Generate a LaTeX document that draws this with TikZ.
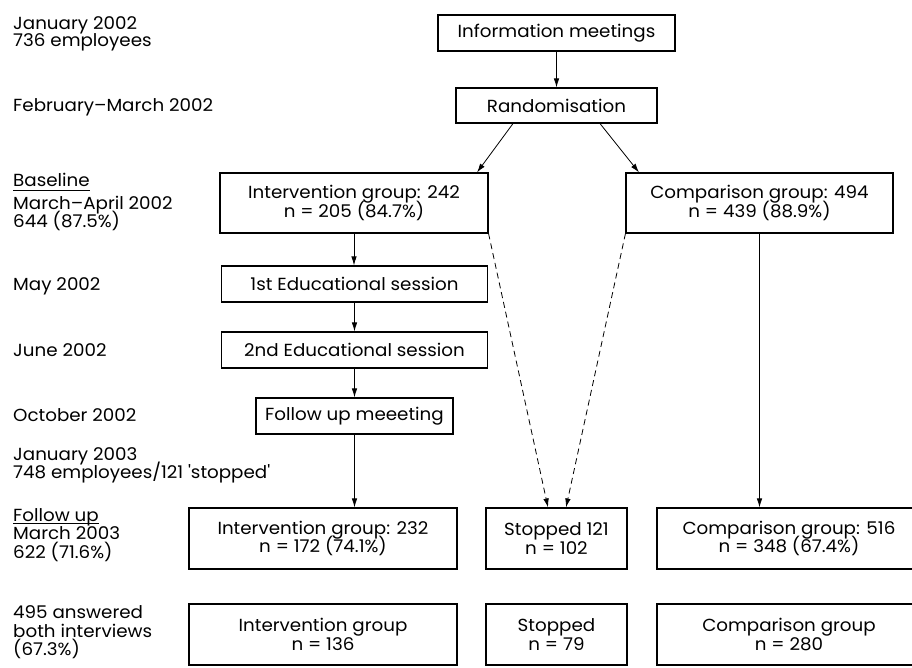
\documentclass[tikz,border=0pt]{standalone}
\usepackage{fontspec}
\setmainfont{Poppins}[FakeStretch=1.045]
\usetikzlibrary{arrows.meta,calc}
\newcommand\boxfont{\fontsize{17.5}{18.4}\selectfont\lineskiplimit=-100pt\relax}
\tikzset{
  box/.style={draw, line width=1.1pt, inner sep=0pt, align=center, font=\boxfont},
  lab/.style={anchor=base west, inner sep=0pt, font=\boxfont},
  arr/.style={-{Latex[length=9pt,width=5.5pt]}, line width=0.8pt},
  dsh/.style={arr, dash pattern=on 6pt off 4pt},
  uline/.style={line width=0.8pt}
}
\begin{document}
\begin{tikzpicture}[x=1pt,y=-1pt]
\useasboundingbox (0,0) rectangle (912,668);
% left column labels
\node[lab] (l1) at (13,29.3) {January 2002};
\node[lab] (l2) at (13,47) {736 employees};
\node[lab] (l3) at (13,111.7) {February–March 2002};
\node[lab] (l4) at (13,187) {Baseline};
\node[lab] (l5) at (13,210) {March–April 2002};
\node[lab] (l6) at (13,227.5) {644 (87.5\%)};
\node[lab] (l7) at (13,290) {May 2002};
\node[lab] (l8) at (13,356) {June 2002};
\node[lab] (l9) at (13,421.7) {October 2002};
\node[lab] (l10) at (13,460) {January 2003};
\node[lab] (l11) at (13,478) {748 employees/121 \textquotesingle stopped\textquotesingle};
\node[lab] (l12) at (13,521.5) {Follow up};
\node[lab] (l13) at (13,539.5) {March 2003};
\node[lab] (l14) at (13,558) {622 (71.6\%)};
\node[lab] (l15) at (13,618) {495 answered};
\node[lab] (l16) at (13,637) {both interviews};
\node[lab] (l17) at (13,655.5) {(67.3\%)};
\draw[uline] ([yshift=-3.5pt]l4.base west) -- ([yshift=-3.5pt]l4.base east);
\draw[uline] ([yshift=-2pt]l12.base west) -- ([yshift=-2pt]l12.base east);
% boxes
\node[box, minimum width=237pt, minimum height=36pt] (info) at (556.5,33) {Information meetings};
\node[box, minimum width=201pt, minimum height=35pt] (rand) at (556.5,105.5) {Randomisation};
\node[box, minimum width=268pt, minimum height=60pt] (ig1) at (354,203) {Intervention group: 242\\n = 205 (84.7\%)};
\node[box, minimum width=267pt, minimum height=60pt] (cg1) at (759.5,203) {Comparison group: 494\\n = 439 (88.9\%)};
\node[box, minimum width=266pt, minimum height=36pt] (es1) at (354.5,284) {1st Educational session};
\node[box, minimum width=266pt, minimum height=36pt] (es2) at (354.5,350) {2nd Educational session};
\node[box, minimum width=197pt, minimum height=36pt] (fum) at (354.5,416) {Follow up meeeting};
\node[box, minimum width=268pt, minimum height=61pt] (ig2) at (323,538.5) {Intervention group: 232\\n = 172 (74.1\%)};
\node[box, minimum width=141pt, minimum height=61pt] (st1) at (556.5,538.5) {Stopped 121\\n = 102};
\node[box, minimum width=264pt, minimum height=61pt] (cg2) at (789,538.5) {Comparison group: 516\\n = 348 (67.4\%)};
\node[box, minimum width=268pt, minimum height=61pt] (ig3) at (323,634.5) {Intervention group\\n = 136};
\node[box, minimum width=141pt, minimum height=61pt] (st2) at (556.5,634.5) {Stopped\\n = 79};
\node[box, minimum width=264pt, minimum height=61pt] (cg3) at (789,634.5) {Comparison group\\n = 280};
% connectors
\draw[arr] (info.south) -- (rand.north);
\draw[arr] ([xshift=-43.5pt]rand.south) -- ([xshift=123pt]ig1.north);
\draw[arr] ([xshift=43.5pt]rand.south) -- ([xshift=-120.5pt]cg1.north);
\draw[arr] (ig1.south) -- (ig1.south |- es1.north);
\draw[arr] (es1.south) -- (es2.north);
\draw[arr] (es2.south) -- (fum.north);
\draw[arr] (fum.south) -- (fum.south |- ig2.north);
\draw[arr] (cg1.south) -- (cg1.south |- cg2.north);
\draw[dsh] (ig1.south east) -- ([xshift=-8.5pt]st1.north);
\draw[dsh] (cg1.south west) -- ([xshift=9.5pt]st1.north);
\end{tikzpicture}
\end{document}
